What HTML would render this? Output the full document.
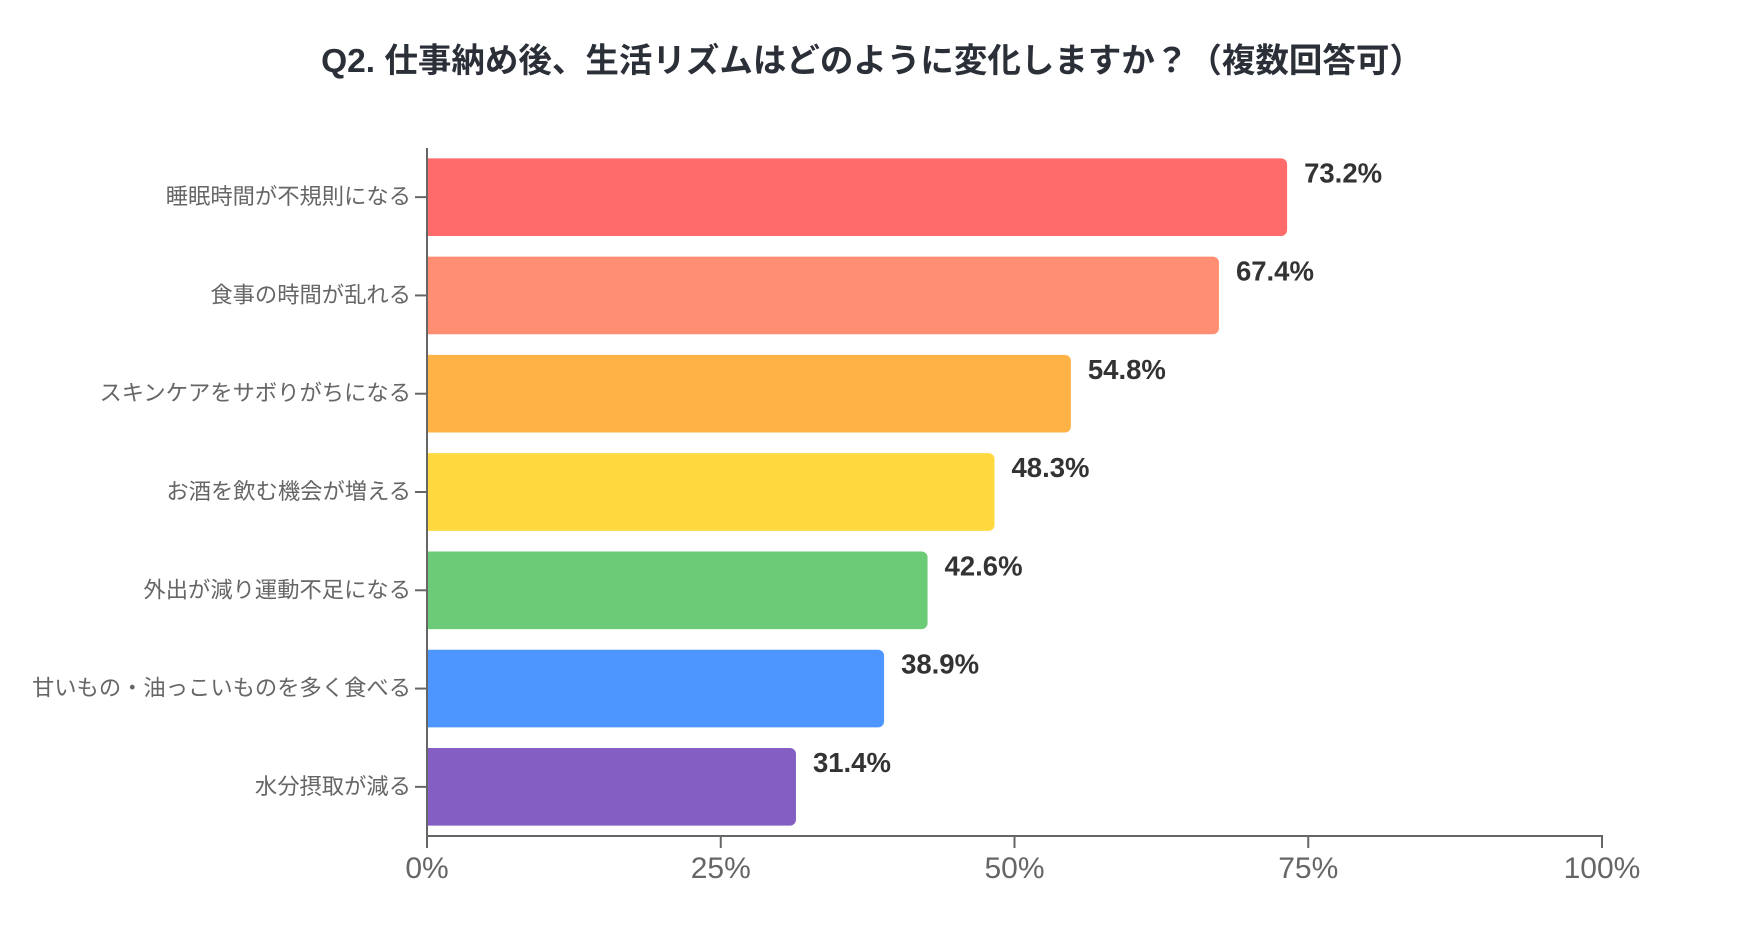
<!DOCTYPE html>
<html><head><meta charset="utf-8">
<style>
body{margin:0;background:#fff;width:1742px;height:934px;overflow:hidden}
svg{display:block}
text{font-family:"Liberation Sans","Noto Sans CJK JP",sans-serif}
</style></head>
<body>
<svg id="chart" width="1742" height="934">
<text x="872" y="72" text-anchor="middle" font-size="33.5" font-weight="bold" fill="#2b2f38">Q2. 仕事納め後、生活リズムはどのように変化しますか？（複数回答可）</text>
</svg>
<script>
const categories=["睡眠時間が不規則になる","食事の時間が乱れる","スキンケアをサボりがちになる","お酒を飲む機会が増える","外出が減り運動不足になる","甘いもの・油っこいものを多く食べる","水分摂取が減る"];
const values=[73.2,67.4,54.8,48.3,42.6,38.9,31.4];
const colors=["#FF6B6B","#FF8E72","#FFB347","#FFD93D","#6BCB77","#4D96FF","#845EC2"];
const ticks=[0,25,50,75,100];
const svg=document.getElementById('chart');
const NS='http://www.w3.org/2000/svg';
const x0=427,x1=1602,yTop=148,yBot=836;
const band=(yBot-yTop)/categories.length;
const xs=v=>x0+(x1-x0)*v/100;
function mk(t,a){const e=document.createElementNS(NS,t);for(const k in a)e.setAttribute(k,a[k]);svg.appendChild(e);return e;}
categories.forEach((c,i)=>{
  const yc=yTop+band*(i+0.5),h=band*0.79;
  const w=xs(values[i])-x0;
  const b=mk('path',{d:`M${x0},${yc-h/2}h${w-6}a6,6 0 0 1 6,6v${h-12}a6,6 0 0 1 -6,6h${-(w-6)}z`,fill:colors[i]});
  
  
  const v=mk('text',{x:xs(values[i])+17,y:yc-h/2+24,'font-size':27.5,'font-weight':'bold',fill:'#333'});
  v.textContent=values[i].toFixed(1)+'%';
  
  
  const tk=mk('line',{x1:x0-12,x2:x0,y1:yc,y2:yc,stroke:'#666','stroke-width':2});
  
  
  const l=mk('text',{x:x0-16,y:yc+7,'text-anchor':'end','font-size':22.3,fill:'#666'});
  l.textContent=c;
  
  
});
const ya=mk('line',{x1:x0,x2:x0,y1:yTop,y2:yBot,stroke:'#666','stroke-width':2});


const xa=mk('line',{x1:x0-1,x2:x1+1,y1:yBot,y2:yBot,stroke:'#666','stroke-width':2});


ticks.forEach(t=>{
  const tl=mk('line',{x1:xs(t),x2:xs(t),y1:yBot,y2:yBot+12,stroke:'#666','stroke-width':2});
  
  
  const tx=mk('text',{x:xs(t),y:yBot+42,'text-anchor':'middle','font-size':30,fill:'#666'});
  tx.textContent=t+'%';
  
  
});
</script>
</body></html>
